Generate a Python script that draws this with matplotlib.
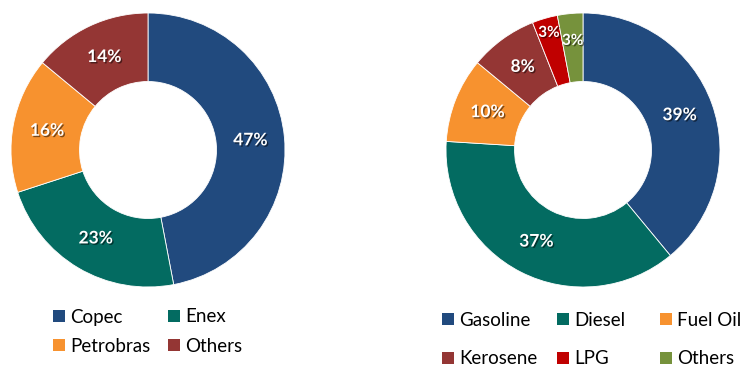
import matplotlib
matplotlib.use("Agg")
import matplotlib.pyplot as plt
import matplotlib.patheffects as pe
from matplotlib.patches import Patch

company_labels = ["Copec", "Enex", "Petrobras", "Others"]
company_values = [47, 23, 16, 14]
company_colors = ["#214A7E", "#036B61", "#F7922F", "#943634"]

fuel_labels = ["Gasoline", "Diesel", "Fuel Oil", "Kerosene", "LPG", "Others"]
fuel_values = [39, 37, 10, 8, 3, 3]
fuel_colors = ["#214A7E", "#036B61", "#F7922F", "#943634", "#C00000", "#76923C"]

plt.rcParams['font.family'] = ['Lato', 'DejaVu Sans']

W, H = 741, 368
fig = plt.figure(figsize=(W / 100, H / 100), dpi=100)

def donut(cx, cy, r, values, colors, label_r=None):
    ax = fig.add_axes([(cx - r) / W, (H - cy - r) / H, 2 * r / W, 2 * r / H])
    wedges, texts = ax.pie(values, colors=colors, startangle=90, counterclock=False,
                           radius=1.0, wedgeprops=dict(width=0.5, edgecolor='white', linewidth=0.6),
                           labels=[f"{v}%" for v in values], labeldistance=0.75,
                           textprops=dict(color='white', fontsize=12.5, fontweight='bold',
                                          ha='center', va='center'))
    for i, t in enumerate(texts):
        t.set_path_effects([pe.withSimplePatchShadow(offset=(1, -1), shadow_rgbFace='black', alpha=0.5)])
        if label_r is not None and label_r[i] is not None:
            x, y = t.get_position()
            s = label_r[i] / 0.75
            t.set_position((x * s, y * s))
            t.set_fontsize(11)
    ax.set_xlim(-1, 1)
    ax.set_ylim(-1, 1)
    ax.set_aspect('equal')
    ax.axis('off')
    return ax

donut(148, 150, 137, company_values, company_colors)
donut(583, 150, 137, fuel_values, fuel_colors, label_r=[None, None, None, None, 0.89, 0.8])

def legend_entry(label, color, x_px, y_px):
    fig.legend(handles=[Patch(facecolor=color, label=label)], loc='center left',
               bbox_to_anchor=(x_px / W, 1 - y_px / H), frameon=False, fontsize=13.5,
               handlelength=0.62, handleheight=0.62, handletextpad=0.3,
               borderpad=0, borderaxespad=0)

left_x = [53, 168]
left_y = [317, 346]
for i, (l, c) in enumerate(zip(company_labels, company_colors)):
    legend_entry(l, c, left_x[i % 2], left_y[i // 2])

right_x = [442, 557, 660]
right_y = [320, 359]
for i, (l, c) in enumerate(zip(fuel_labels, fuel_colors)):
    legend_entry(l, c, right_x[i % 3], right_y[i // 3])

fig.savefig("out.png", dpi=100)
